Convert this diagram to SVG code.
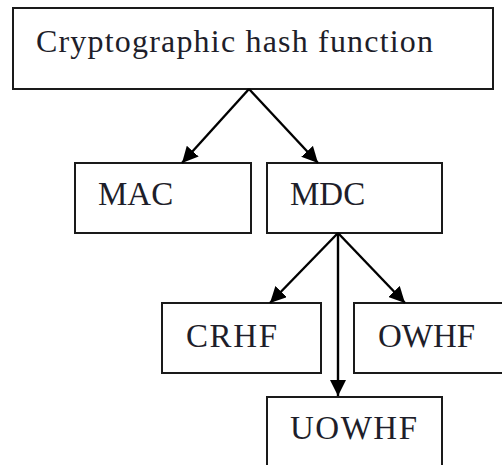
<svg xmlns="http://www.w3.org/2000/svg" width="502" height="465" viewBox="0 0 502 465">
  <style>
    .box { fill: #ffffff; stroke: #1a1a1a; stroke-width: 2; }
    .lbl { font-family: "Liberation Serif", "Times New Roman", serif; font-size: 33px; fill: #1e1e2a; }
    .edge { stroke: #000000; stroke-width: 2.4; fill: none; marker-end: url(#arrow); }
  </style>
  <defs>
    <marker id="arrow" markerUnits="userSpaceOnUse" markerWidth="18" markerHeight="16" refX="16" refY="8" orient="auto">
      <path d="M0,0 L16,8 L0,16 Z" fill="#000000"/>
    </marker>
  </defs>
  <rect width="502" height="465" fill="#ffffff"/>
  <g id="node-chf">
    <rect class="box" x="13" y="8" width="480" height="81"/>
    <text class="lbl" x="36" y="52" style="font-size:32px" textLength="397" lengthAdjust="spacing">Cryptographic hash function</text>
  </g>
  <g id="node-mac">
    <rect class="box" x="75" y="163" width="176" height="70"/>
    <text class="lbl" x="98" y="205">MAC</text>
  </g>
  <g id="node-mdc">
    <rect class="box" x="267" y="163" width="175" height="70"/>
    <text class="lbl" x="290" y="205">MDC</text>
  </g>
  <g id="node-crhf">
    <rect class="box" x="162" y="303" width="159" height="70"/>
    <text class="lbl" x="186" y="347" textLength="91" lengthAdjust="spacing">CRHF</text>
  </g>
  <g id="node-owhf">
    <rect class="box" x="354" y="303" width="160" height="70"/>
    <text class="lbl" x="378" y="347">OWHF</text>
  </g>
  <g id="node-uowhf">
    <rect class="box" x="267" y="397" width="175" height="80"/>
    <text class="lbl" x="290" y="439" textLength="127" lengthAdjust="spacing">UOWHF</text>
  </g>
  <g id="connectors">
    <line class="edge" x1="249" y1="89" x2="182" y2="163"/>
    <line class="edge" x1="249" y1="89" x2="318" y2="163"/>
    <line class="edge" x1="338" y1="233" x2="270" y2="303"/>
    <line class="edge" x1="338" y1="233" x2="405" y2="303"/>
    <line class="edge" x1="338" y1="233" x2="338" y2="396"/>
  </g>
</svg>
